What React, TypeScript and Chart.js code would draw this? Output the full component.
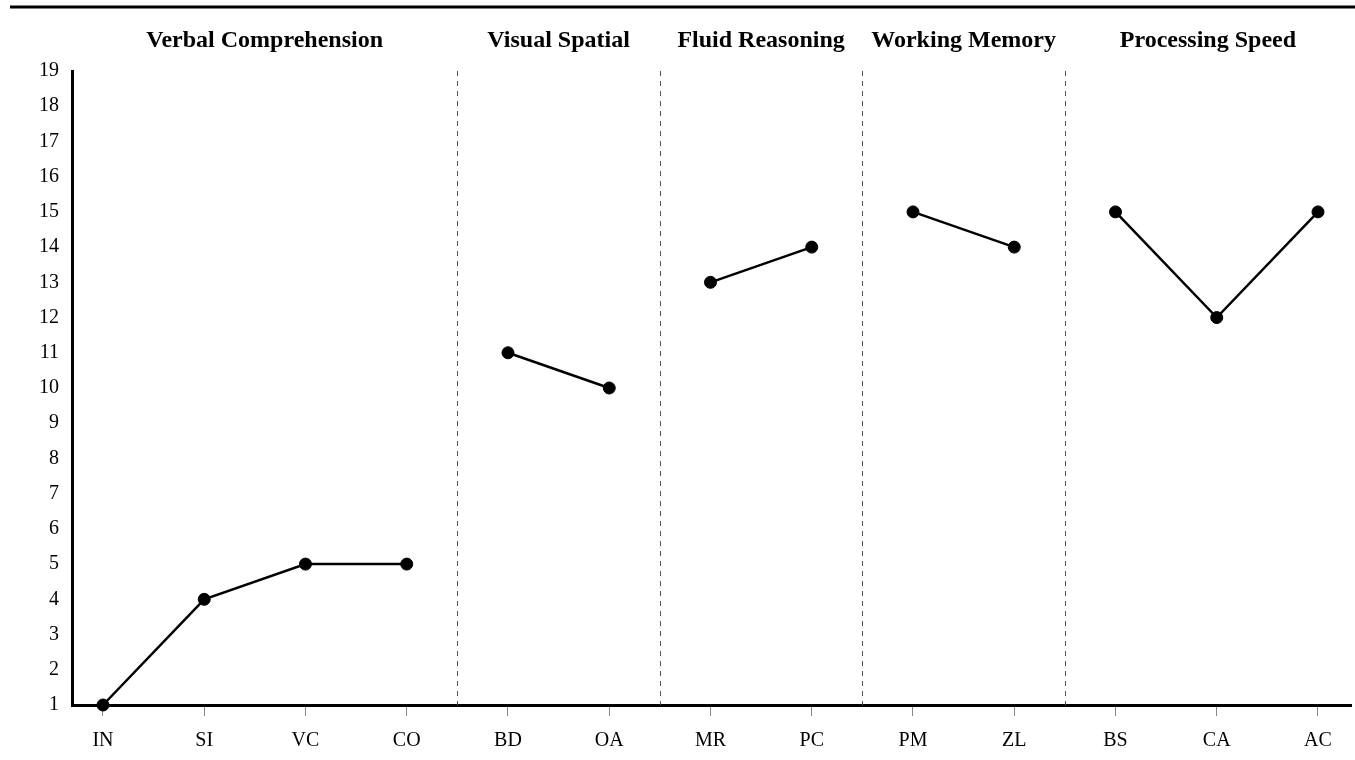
import React, { useEffect, useRef } from "react";
import { Chart, registerables } from "chart.js";

Chart.register(...registerables);

const categories = ["IN", "SI", "VC", "CO", "BD", "OA", "MR", "PC", "PM", "ZL", "BS", "CA", "AC"];
const scores = [1, 4, 5, 5, 11, 10, 13, 14, 15, 14, 15, 12, 15];
const groupNames = ["Verbal Comprehension", "Visual Spatial", "Fluid Reasoning", "Working Memory", "Processing Speed"];
const groupSizes = [4, 2, 2, 2, 3];
const yTicks = [1, 2, 3, 4, 5, 6, 7, 8, 9, 10, 11, 12, 13, 14, 15, 16, 17, 18, 19];

const SERIF = "'Liberation Serif', 'Times New Roman', serif";

export default function App() {
  const ref = useRef<HTMLCanvasElement | null>(null);

  useEffect(() => {
    document.body.style.margin = "0";
    const canvas = ref.current;
    if (!canvas) return;

    const starts: number[] = [];
    let acc = 0;
    for (const s of groupSizes) {
      starts.push(acc);
      acc += s;
    }

    const datasets = groupSizes.map((size, g) => ({
      label: groupNames[g],
      data: scores.slice(starts[g], starts[g] + size).map((v, i) => ({ x: starts[g] + i, y: v })),
      borderColor: "#000",
      backgroundColor: "#000",
      borderWidth: 2.5,
      pointRadius: 6,
      pointBorderWidth: 1,
      pointBackgroundColor: "#000",
      pointBorderColor: "#000",
      tension: 0,
      clip: false as any,
    }));

    const decor = {
      id: "decor",
      beforeDatasetsDraw(chart: any) {
        const { ctx, chartArea, scales } = chart;
        const x = scales.x;
        ctx.save();
        ctx.strokeStyle = "#555";
        ctx.lineWidth = 1;
        ctx.setLineDash([5, 5]);
        for (let g = 1; g < starts.length; g++) {
          const px = Math.round(x.getPixelForValue(starts[g] - 0.5)) + 0.5;
          ctx.beginPath();
          ctx.moveTo(px, chartArea.top);
          ctx.lineTo(px, chartArea.bottom);
          ctx.stroke();
        }
        ctx.restore();
      },
      afterDraw(chart: any) {
        const { ctx, chartArea, scales } = chart;
        const x = scales.x;
        ctx.save();
        ctx.strokeStyle = "#000";
        ctx.lineWidth = 3;
        ctx.beginPath();
        ctx.moveTo(10, 7);
        ctx.lineTo(chart.width, 7);
        ctx.stroke();

        ctx.fillStyle = "#000";
        ctx.font = `bold 24px ${SERIF}`;
        ctx.textAlign = "center";
        ctx.textBaseline = "alphabetic";
        for (let g = 0; g < starts.length; g++) {
          const left = g === 0 ? chartArea.left : x.getPixelForValue(starts[g] - 0.5);
          const right =
            g === starts.length - 1 ? chartArea.right : x.getPixelForValue(starts[g] + groupSizes[g] - 0.5);
          ctx.fillText(groupNames[g], (left + right) / 2, 47);
        }
        ctx.restore();
      },
    };

    const chart = new Chart(canvas, {
      type: "line",
      data: { datasets: datasets as any },
      plugins: [decor],
      options: {
        responsive: false,
        animation: false,
        layout: { autoPadding: false, padding: { top: 71, left: 0, right: 4, bottom: 0 } },
        plugins: { legend: { display: false }, tooltip: { enabled: false } },
        scales: {
          x: {
            type: "linear",
            min: -0.306,
            max: 12.326,
            afterBuildTicks: (scale: any) => {
              scale.ticks = categories.map((_, i) => ({ value: i }));
            },
            afterFit: (scale: any) => {
              scale.height = 55;
            },
            grid: {
              display: true,
              drawOnChartArea: false,
              drawTicks: true,
              tickLength: 11,
              tickColor: "#888",
              tickWidth: 1,
            },
            border: { display: true, color: "#000", width: 3 },
            ticks: {
              autoSkip: false,
              maxRotation: 0,
              padding: 13,
              color: "#000",
              font: { family: SERIF, size: 20 },
              callback: (v: any) => categories[Number(v)] ?? "",
            },
          },
          y: {
            type: "linear",
            min: 1,
            max: 19,
            afterBuildTicks: (scale: any) => {
              scale.ticks = yTicks.map((v) => ({ value: v }));
            },
            afterFit: (scale: any) => {
              scale.width = 72;
            },
            grid: { display: true, drawOnChartArea: false, drawTicks: false },
            border: { display: true, color: "#000", width: 3 },
            ticks: {
              padding: 13,
              color: "#000",
              font: { family: SERIF, size: 20 },
              callback: (v: any) => String(v),
            },
          },
        },
      },
    });

    return () => chart.destroy();
  }, []);

  return (
    <div style={{ position: "absolute", left: 0, top: 0, width: 1355, height: 760, background: "#fff" }}>
      <canvas ref={ref} width={1355} height={760} style={{ display: "block", width: 1355, height: 760 }} />
    </div>
  );
}
